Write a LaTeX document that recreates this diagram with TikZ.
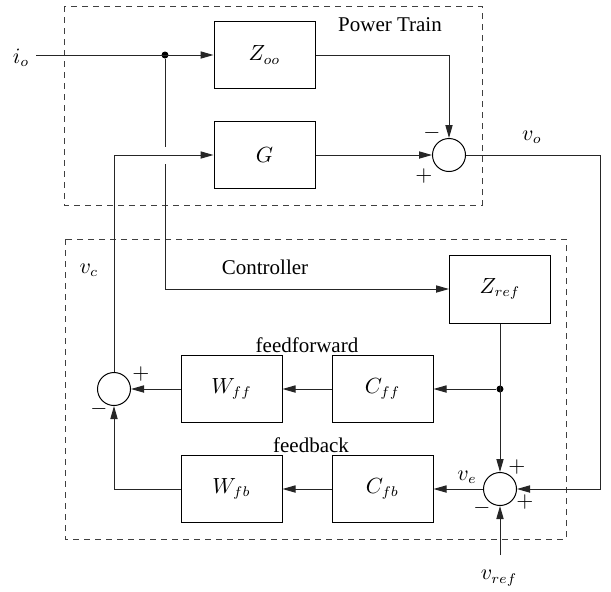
\documentclass[tikz,border=0pt]{standalone}
\usepackage{fontspec}
\setmainfont{Liberation Serif}
\usetikzlibrary{arrows.meta,positioning,calc}
\tikzset{
  every node/.style={font=\fontsize{10.5}{12.6}\selectfont, text=black},
  block/.style={rectangle, draw, line width=0.5pt, minimum width=50.5pt,
    minimum height=33.5pt, inner sep=0pt},
  sumnode/.style={circle, draw, line width=0.5pt, minimum size=16.5pt,
    inner sep=0pt},
  junction/.style={circle, fill, minimum size=3.5pt, inner sep=0pt},
  group/.style={draw=black!75, line width=0.5pt, dash pattern=on 3pt off 2.5pt},
  wire/.style={line width=0.5pt, draw=black!85},
  flow/.style={wire, -{Triangle[length=6.5pt,width=3.6pt]}},
  sign/.style={inner sep=0pt},
  grouplabel/.style={inner sep=1pt},
}

\begin{document}
\begin{tikzpicture}[x=0.5pt,y=0.5pt]
\useasboundingbox (0,0) rectangle (611,-591);

% Rows and columns of the blocks.
\def\yio{-55}   % load current row
\def\yg{-155}   % plant row
\def\yref{-289} % reference impedance row
\def\yff{-389}  % feedforward row
\def\yfb{-489}  % feedback row
\def\xw{231.5}
\def\xc{382.5}
\def\xs{500}

% ---- Power train ---------------------------------------------------------
\draw[group] (64,-6) rectangle (482,-205);
\node[grouplabel] (ptlab) at (390,-25) {Power Train};

\node[block] (zoo) at (264.5,\yio) {$Z_{oo}$};
\node[block] (g) at (264.5,\yg) {$G$};
\node[sumnode] (sum1) at (449,\yg) {};
\node[sign] (s1a) at (432,-133) {$-$};
\node[sign] (s1b) at (424,-176) {$+$};

\node (iolab) at (21,-58) {$i_o$};
\node[junction] (dot1) at (165,\yio) {};
\node (volab) at (532,-137) {$v_o$};

\draw[flow] (iolab.east |- zoo.west) -- (zoo.west);
\draw[flow] (zoo.east) -| (sum1.north);
\draw[flow] (g) -- (sum1);

% ---- Controller ----------------------------------------------------------
\draw[group] (65,-239) rectangle (566,-539);
\node[grouplabel] (ctlab) at (265,-267) {Controller};
\node[grouplabel] (fflab) at (307,-345) {feedforward};
\node[grouplabel] (fblab) at (311,-445) {feedback};

\node[block, minimum height=34pt] (zref) at (\xs,\yref) {$Z_{ref}$};
\node[block] (cff) at (\xc,\yff) {$C_{ff}$};
\node[block] (wff) at (\xw,\yff) {$W_{ff}$};
\node[block] (cfb) at (\xc,\yfb) {$C_{fb}$};
\node[block] (wfb) at (\xw,\yfb) {$W_{fb}$};
\node[junction] (dot2) at (\xs,\yff) {};

\node[sumnode] (sum2) at (114,\yff) {};
\node[sign] (s2a) at (141,-374) {$+$};
\node[sign] (s2b) at (99,-409) {$-$};

\node[sumnode] (sum3) at (\xs,\yfb) {};
\node[sign] (s3a) at (517,-467) {$+$};
\node[sign] (s3b) at (525,-502) {$+$};
\node[sign] (s3c) at (482,-508) {$-$};

\node (vclab) at (89,-270) {$v_c$};
\node (velab) at (467,-477) {$v_e$};
\node (vreflab) at (499,-578) {$v_{ref}$};

% load current into the reference impedance, with a gap at the crossing
\coordinate (gaptop) at (165,-147);
\coordinate (gapbot) at (165,-164);
\draw[wire] (dot1) -- (gaptop);
\draw[flow] (gapbot) |- (zref.west);

% feedforward path
\draw[flow] (zref.south) -- (sum3.north);
\draw[flow] (dot2) -- (cff.east);
\draw[flow] (cff) -- (wff);
\draw[flow] (wff) -- (sum2.east);

% feedback path
\coordinate (vrefin) at (\xs,-555);
\draw[flow] (vrefin) -- (sum3.south);
\draw[flow] (sum1.east) -- (sum1.east -| 600,0) |- (sum3.east);
\draw[flow] (sum3) -- (cfb);
\draw[flow] (cfb) -- (wfb);
\draw[flow] (wfb.west) -| (sum2.south);

% control voltage back to the plant
\draw[flow] (sum2.north) |- (g.west);

\end{tikzpicture}
\end{document}
